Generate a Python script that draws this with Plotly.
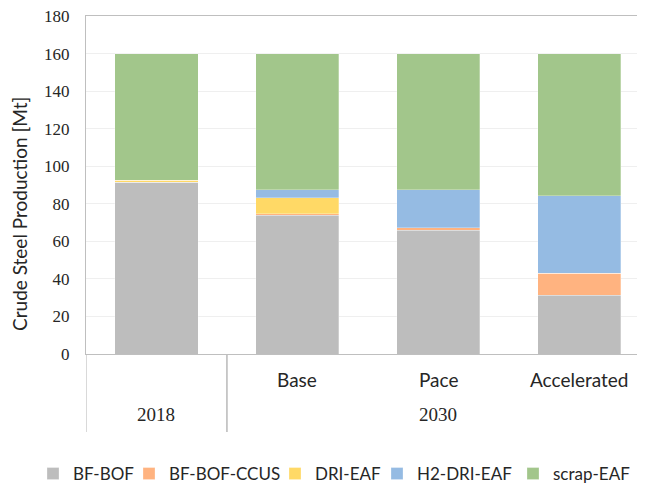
import plotly.graph_objects as go

# ---- data ----
categories = ["2018", "Base", "Pace", "Accelerated"]
groups = ["2018", "2030", "2030", "2030"]
inner_labels = ["", "Base", "Pace", "Accelerated"]

series_names = ["BF-BOF", "BF-BOF-CCUS", "DRI-EAF", "H2-DRI-EAF", "scrap-EAF"]
bf_bof = [91.5, 73.8, 66.0, 31.4]
bf_bof_ccus = [0.0, 1.0, 1.2, 11.5]
dri_eaf = [1.0, 8.5, 0.0, 0.0]
h2_dri_eaf = [0.0, 4.3, 20.4, 41.5]
scrap_eaf = [67.5, 72.4, 72.4, 75.6]

y_ticks = [0, 20, 40, 60, 80, 100, 120, 140, 160, 180]

colors = ["#bdbdbd", "#ffb380", "#ffd966", "#95bbe3", "#a2c68b"]
values = [bf_bof, bf_bof_ccus, dri_eaf, h2_dri_eaf, scrap_eaf]

# page body has an 8px default margin -> figure drawn offset by OFF px
OFF = 8
WIN_W, WIN_H = 645, 483
W, H = WIN_W - OFF, WIN_H - OFF
L = 86 - OFF
T = 16 - OFF
B = WIN_H - 354
R = 0
plot_h = H - T - B
plot_w = W - L - R

TEXT = "Lato"
NUM = "Liberation Serif"
FC = "#262626"

legend_text_x = [73, 169, 315, 417, 553]  # window px where legend texts start
legend_ids = ["legend", "legend2", "legend3", "legend4", "legend5"]

fig = go.Figure()
for name, vals, col, lid in zip(series_names, values, colors, legend_ids):
    fig.add_trace(go.Bar(
        x=categories, y=vals, name=name, legend=lid,
        marker=dict(color=col, line=dict(color="rgba(255,255,255,0.35)", width=0.8)),
    ))

cat_px = 140.9
x_end = -0.5 + plot_w / cat_px


def py(win_y):
    return (WIN_H - B - win_y) / plot_h


def px(win_x):
    return (win_x - OFF - L) / plot_w


annotations = []
for i, lab in enumerate(inner_labels):
    if lab:
        annotations.append(dict(x=categories[i], xref="x", y=py(379), yref="paper",
                                text=lab, showarrow=False, yanchor="middle",
                                font=dict(family=TEXT, size=19, color=FC)))
shapes = []
uniq = []
for g in groups:
    if g not in uniq:
        uniq.append(g)
for g in uniq:
    idx = [i for i, gg in enumerate(groups) if gg == g]
    center = sum(idx) / len(idx)
    annotations.append(dict(x=center, xref="x", y=py(414), yref="paper",
                            text=g, showarrow=False, yanchor="middle",
                            font=dict(family=NUM, size=19, color=FC)))
    for bnd in (min(idx) - 0.5, max(idx) + 0.5):
        if bnd < x_end:
            shapes.append(dict(type="line", xref="x", yref="paper", x0=bnd, x1=bnd,
                               y0=0, y1=py(432), line=dict(color="#bfbfbf", width=1.2)))

annotations.append(dict(x=px(19), xref="paper", y=py(214), yref="paper",
                        text="Crude Steel Production [Mt]", textangle=-90, showarrow=False,
                        xanchor="center", yanchor="middle", borderpad=0,
                        font=dict(family=TEXT, size=19, color=FC)))

layout_legends = {}
for lid, tx in zip(legend_ids, legend_text_x):
    layout_legends[lid] = dict(
        orientation="h", xref="container", yref="container",
        x=(tx - OFF - 40) / W, xanchor="left",
        y=1 - (474 - OFF) / H, yanchor="middle",
        font=dict(family=TEXT, size=17, color=FC),
        bgcolor="rgba(0,0,0,0)", borderwidth=0)

fig.update_layout(
    width=W, height=H,
    margin=dict(l=L, r=R, t=T, b=B, pad=0, autoexpand=False),
    paper_bgcolor="white", plot_bgcolor="white",
    barmode="stack", bargap=0.41,
    showlegend=True,
    annotations=annotations, shapes=shapes,
    **layout_legends,
)
fig.update_xaxes(type="category", categoryorder="array", categoryarray=categories,
                 range=[-0.5, x_end], showticklabels=False, showgrid=False,
                 showline=True, mirror=True, linecolor="#bfbfbf", linewidth=1.2,
                 ticks="", zeroline=False)
fig.update_yaxes(range=[0, 180], tickvals=y_ticks, showgrid=True, gridcolor="#efefef",
                 showline=True, linecolor="#bfbfbf", linewidth=1.2, ticks="",
                 ticklabelstandoff=12, ticklabeloverflow="allow", zeroline=False,
                 tickfont=dict(family=NUM, size=17, color=FC))

fig.write_html("out.html")
